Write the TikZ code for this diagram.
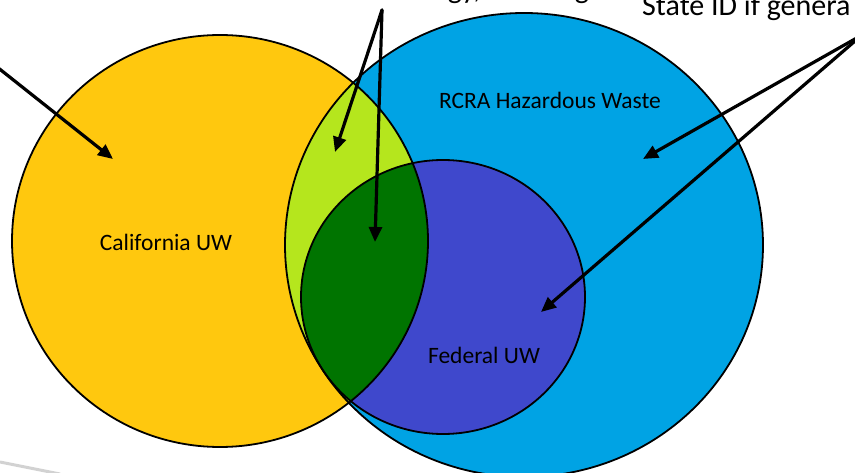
\documentclass[tikz,border=0pt]{standalone}
\usepackage{fontspec}
\setmainfont{Carlito}
\usetikzlibrary{arrows.meta}
\definecolor{cayellow}{RGB}{255,200,14}
\definecolor{rcrablue}{RGB}{0,163,228}
\definecolor{limegreen}{RGB}{181,230,29}
\definecolor{darkgreen}{RGB}{0,116,0}
\definecolor{fedindigo}{RGB}{63,72,204}
\begin{document}
\begin{tikzpicture}[x=1pt,y=-1pt,
  outline/.style={draw=black,line width=1.8pt},
  pointer/.style={draw=black,line width=3.2pt,line cap=round,-{Triangle[length=15pt,width=13pt]}},
  lbl/.style={font=\fontsize{23.5}{28}\selectfont,text=black,inner sep=0pt},
  toplbl/.style={font=\fontsize{30}{36}\selectfont,text=black,inner sep=0pt},
  smudge/.style={draw=gray!35,line width=3pt}]
\useasboundingbox (0,0) rectangle (855,473);
\clip (0,0) rectangle (855,473);
\coordinate (ca) at (220,241);
\coordinate (rc) at (524,245);
\coordinate (fe) at (443,297);
% fills
\fill[cayellow] (ca) ellipse [x radius=208pt, y radius=206pt];
\fill[rcrablue] (rc) ellipse [x radius=239pt, y radius=232pt];
\begin{scope}
  \clip (ca) ellipse [x radius=208pt, y radius=206pt];
  \fill[limegreen] (rc) ellipse [x radius=239pt, y radius=232pt];
\end{scope}
\fill[fedindigo] (fe) ellipse [x radius=142pt, y radius=137pt];
\begin{scope}
  \clip (ca) ellipse [x radius=208pt, y radius=206pt];
  \fill[darkgreen] (fe) ellipse [x radius=142pt, y radius=137pt];
\end{scope}
% outlines
\draw[outline] (ca) ellipse [x radius=208pt, y radius=206pt];
\draw[outline] (rc) ellipse [x radius=239pt, y radius=232pt];
\draw[outline] (fe) ellipse [x radius=142pt, y radius=137pt];
% labels
\node[lbl] (calbl) at (166,242) {California UW};
\node[lbl] (rcralbl) at (550,100) {RCRA Hazardous Waste};
\node[lbl] (fedlbl) at (484,355) {Federal UW};
\node[toplbl,anchor=base west] (toptxt) at (338,-1) {Technology, Labeling};
\node[toplbl,anchor=base west] (statetxt) at (642,16) {State ID if genera};
% arrow coordinates
\coordinate (srcL) at (-8,63);
\coordinate (tipCA) at (113,159);
\coordinate (srcTop) at (382,10);
\coordinate (tipLime) at (335,152);
\coordinate (tipDG) at (375,242);
\coordinate (srcR) at (862,35);
\coordinate (tipBlue) at (643,159);
\coordinate (tipFed) at (541,312);
\draw[pointer] (srcL) -- (tipCA);
\draw[pointer] (srcTop) -- (tipLime);
\draw[pointer] (srcTop) -- (tipDG);
\draw[pointer] (srcR) -- (tipBlue);
\draw[pointer] (srcR) -- (tipFed);
% faint shadow at bottom left
\coordinate (smA) at (0,462);
\coordinate (smB) at (60,474);
\draw[smudge] (smA) -- (smB);
\end{tikzpicture}
\end{document}
